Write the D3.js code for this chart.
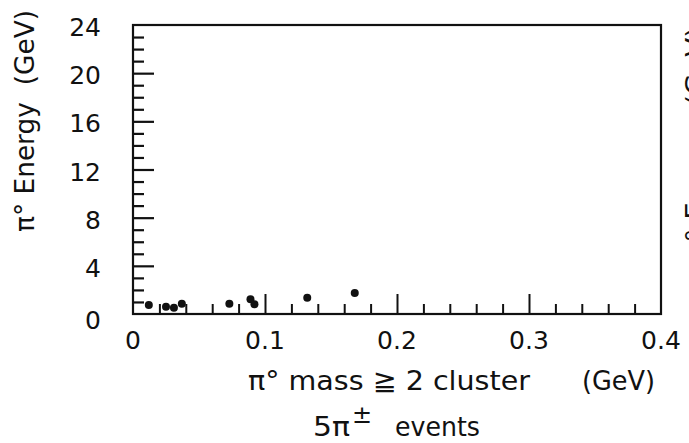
<!DOCTYPE html>
<html>
<head>
<meta charset="utf-8">
<script src="https://cdn.jsdelivr.net/npm/d3@7"></script>
<style>
  html, body { margin: 0; padding: 0; background: #fff; overflow: hidden; }
  text { font-family: "DejaVu Sans", sans-serif; fill: #111; white-space: pre; }
</style>
</head>
<body>
<svg id="viz"></svg>
<script>
// pi0 mass (GeV) and pi0 energy (GeV)
const massValues   = [0.012, 0.025, 0.031, 0.037, 0.073, 0.089, 0.092, 0.132, 0.168];
const energyValues = [0.75, 0.61, 0.52, 0.86, 0.86, 1.22, 0.81, 1.35, 1.74];

const xMajorTicks = [0.1, 0.2, 0.3];
const xMinorTicks = [0.02, 0.04, 0.06, 0.08, 0.12, 0.14, 0.16, 0.18, 0.22, 0.24, 0.26, 0.28, 0.32, 0.34, 0.36, 0.38];
const xTickLabels = ['0', '0.1', '0.2', '0.3', '0.4'];
const yTickLabels = ['0', '4', '8', '12', '16', '20', '24'];

var width = 689, height = 443;
var margin = { top: 25, right: 28, bottom: 129, left: 133 };
var drawWidth = width - margin.left - margin.right;
var drawHeight = height - margin.top - margin.bottom;

var svg = d3.select('#viz').attr('width', width).attr('height', height);
var g = svg.append('g').attr('transform', `translate(${margin.left},${margin.top})`);

var xScale = d3.scaleLinear().domain([0, 0.4]).range([0, drawWidth]);
var yScale = d3.scaleLinear().domain([0, 24]).range([drawHeight, 0]);

// inward ticks on the bottom edge
var xMinor = d3.axisBottom(xScale).tickValues(xMinorTicks).tickSize(-10).tickFormat('');
var xMajor = d3.axisBottom(xScale).tickValues(xMajorTicks).tickSize(-20).tickFormat('');
[xMinor, xMajor].forEach(function(ax){
    g.append('g').attr('transform', `translate(0,${drawHeight})`).call(ax)
     .call(s => s.select('.domain').remove())
     .selectAll('line').attr('stroke', '#111').attr('stroke-width', 2);
});

// inward ticks on the left edge, every 1 GeV, longer every 4
var yMinor = d3.axisLeft(yScale).tickValues(d3.range(1, 24).filter(v => v % 4)).tickSize(-11).tickFormat('');
var yMajor = d3.axisLeft(yScale).tickValues([4, 8, 12, 16, 20]).tickSize(-21).tickFormat('');
[yMinor, yMajor].forEach(function(ax){
    g.append('g').call(ax)
     .call(s => s.select('.domain').remove())
     .selectAll('line').attr('stroke', '#111').attr('stroke-width', 2.2);
});

// frame
g.append('rect')
 .attr('x', 0).attr('y', 0)
 .attr('width', drawWidth).attr('height', drawHeight)
 .attr('fill', 'none').attr('stroke', '#111').attr('stroke-width', 2.2);

// tick labels
g.selectAll('.xlab').data(xTickLabels).enter().append('text')
 .attr('class', 'xlab')
 .attr('x', d => xScale(+d))
 .attr('y', drawHeight + 35)
 .attr('text-anchor', 'middle')
 .style('font-size', '25px')
 .text(d => d);

g.selectAll('.ylab').data(yTickLabels).enter().append('text')
 .attr('class', 'ylab')
 .attr('x', -32)
 .attr('y', d => yScale(+d) + 11 + (+d === 0 ? 4 : 0))
 .attr('text-anchor', 'end')
 .style('font-size', '25px')
 .text(d => d);

// points
g.selectAll('circle').data(massValues).enter().append('circle')
 .attr('cx', d => xScale(d))
 .attr('cy', (d, i) => yScale(energyValues[i]))
 .attr('r', 4)
 .attr('fill', '#111');

// axis titles
svg.append('text')
 .attr('x', 248).attr('y', 390)
 .attr('textLength', 282).attr('lengthAdjust', 'spacingAndGlyphs')
 .style('font-size', '27px')
 .text('π° mass ≧ 2 cluster');
svg.append('text')
 .attr('x', 582).attr('y', 390)
 .attr('textLength', 73).attr('lengthAdjust', 'spacingAndGlyphs')
 .style('font-size', '27px')
 .text('(GeV)');

svg.append('text').attr('x', 313).attr('y', 436)
 .attr('textLength', 37).attr('lengthAdjust', 'spacingAndGlyphs')
 .style('font-size', '27px').text('5π');
svg.append('text').attr('x', 352).attr('y', 423)
 .style('font-size', '24px').text('±');
svg.append('text').attr('x', 395).attr('y', 436)
 .attr('textLength', 85).attr('lengthAdjust', 'spacingAndGlyphs')
 .style('font-size', '27px').text('events');

svg.append('text')
 .attr('transform', 'translate(34,121) rotate(-90)')
 .attr('text-anchor', 'middle')
 .attr('textLength', 222).attr('lengthAdjust', 'spacingAndGlyphs')
 .style('font-size', '27px')
 .text('π° Energy  (GeV)');

// neighbouring panel's axis title, cut off at the right edge
svg.append('text')
 .attr('transform', 'translate(705,143) rotate(-90)')
 .attr('text-anchor', 'middle')
 .attr('textLength', 232).attr('lengthAdjust', 'spacingAndGlyphs')
 .style('font-size', '27px')
 .text('π° Energy  (GeV)');
</script>
</body>
</html>
